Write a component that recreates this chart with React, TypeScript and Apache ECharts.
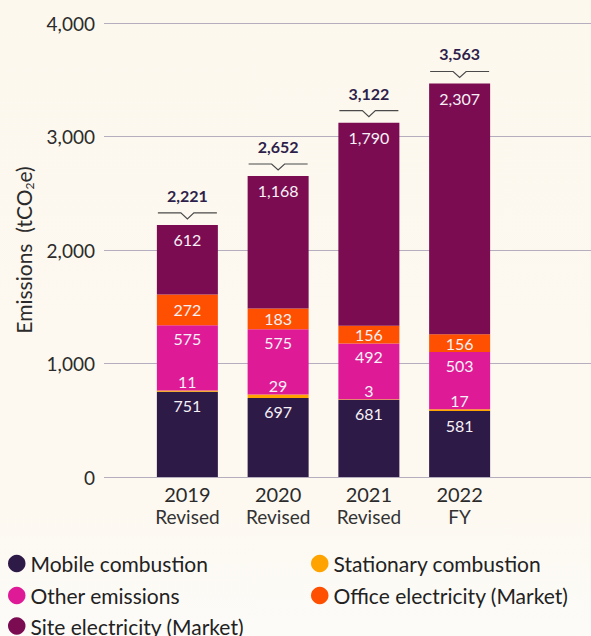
import React, { useEffect, useRef } from "react";
import * as echarts from "echarts";

const categories = ["2019", "2020", "2021", "2022"];
const categorySubLabels = ["Revised", "Revised", "Revised", "FY"];

const mobileCombustion = [751, 697, 681, 581];
const stationaryCombustion = [11, 29, 3, 17];
const otherEmissions = [575, 575, 492, 503];
const officeElectricity = [272, 183, 156, 156];
// Published values (labels)
const siteElectricity = [612, 1168, 1790, 2307];
// Heights of the bars as drawn in the source (2022 bar is drawn shorter than its label)
const siteElectricityBarHeight = [612, 1168, 1790, 2210];
const totals = [2221, 2652, 3122, 3563];

const yMin = 0;
const yMax = 4000;
const yInterval = 1000;

const FONT = "Lato";
const fmt = (v: number) => Number(v).toLocaleString("en-US");

const seriesColors: Record<string, string> = {
  "Mobile combustion": "#2e1a47",
  "Stationary combustion": "#ffa300",
  "Other emissions": "#df1a97",
  "Office electricity (Market)": "#fe5000",
  "Site electricity (Market)": "#7b0c52",
};

export default function App() {
  const ref = useRef<HTMLDivElement>(null);

  useEffect(() => {
    if (!ref.current) return;
    const chart = echarts.init(ref.current, undefined, { renderer: "svg" });

    const labelBase = {
      show: true,
      color: "#f6f1f6",
      fontSize: 16,
      fontFamily: FONT,
      formatter: (p: any) => fmt(p.value),
    };

    const barCommon = {
      type: "bar",
      stack: "total",
      xAxisIndex: 1,
      yAxisIndex: 1,
      barWidth: 61,
    };

    const drawnTotals = categories.map(
      (_, i) =>
        mobileCombustion[i] +
        stationaryCombustion[i] +
        otherEmissions[i] +
        officeElectricity[i] +
        siteElectricityBarHeight[i]
    );

    const legendItem = (name: string, left: number, top: number) => ({
      data: [name],
      orient: "horizontal",
      left,
      top,
      padding: 0,
      icon: "circle",
      itemWidth: 17.5,
      itemHeight: 17.5,
      itemGap: 0,
      selectedMode: false,
      textStyle: { fontSize: 21, lineHeight: 20, color: "#222222", fontFamily: FONT, padding: [0, 0, 0, 0] },
    });

    const option: any = {
      animation: false,
      backgroundColor: "transparent",
      textStyle: { fontFamily: FONT },
      grid: [
        { left: 104, right: 0, top: 23, height: 454 },
        { left: 142, width: 363, top: 23, height: 454 },
      ],
      xAxis: [
        { type: "value", gridIndex: 0, show: false, min: 0, max: 1 },
        {
          type: "category",
          gridIndex: 1,
          data: categories,
          axisLine: { show: false },
          axisTick: { show: false },
          axisLabel: {
            margin: 6,
            formatter: (v: string, i: number) => `{y|${v}}\n{s|${categorySubLabels[i]}}`,
            rich: {
              y: { fontSize: 20, lineHeight: 22, color: "#2b2b2b", fontFamily: FONT },
              s: { fontSize: 19, lineHeight: 22, color: "#333333", fontFamily: FONT },
            },
          },
        },
      ],
      yAxis: [
        {
          type: "value",
          gridIndex: 0,
          min: yMin,
          max: yMax,
          interval: yInterval,
          axisLine: { show: false },
          axisTick: { show: false },
          splitLine: { lineStyle: { color: "#b4aebf", width: 1 } },
          axisLabel: {
            fontSize: 19,
            color: "#2b2b2b",
            fontFamily: FONT,
            margin: 9,
            formatter: (v: number) => fmt(v),
          },
          name: "Emissions  (tCO{sub|2}e)",
          nameLocation: "middle",
          nameRotate: 90,
          nameGap: 68,
          nameTextStyle: {
            fontSize: 21,
            color: "#2b2b2b",
            fontFamily: FONT,
            lineHeight: 24,
            rich: {
              sub: { fontSize: 12, lineHeight: 12, verticalAlign: "bottom", color: "#2b2b2b", fontFamily: FONT },
            },
          },
        },
        {
          type: "value",
          gridIndex: 1,
          min: yMin,
          max: yMax,
          interval: yInterval,
          show: false,
          splitLine: { show: false },
        },
      ],
      legend: [
        legendItem("Mobile combustion", 8, 553),
        legendItem("Other emissions", 8, 585),
        legendItem("Site electricity (Market)", 8, 615.5),
        legendItem("Stationary combustion", 311, 553),
        legendItem("Office electricity (Market)", 311, 585),
      ],
      series: [
        {
          ...barCommon,
          name: "Mobile combustion",
          data: mobileCombustion,
          itemStyle: { color: seriesColors["Mobile combustion"] },
          label: { ...labelBase, position: "insideTop", distance: 6 },
        },
        {
          ...barCommon,
          name: "Stationary combustion",
          data: stationaryCombustion,
          itemStyle: { color: seriesColors["Stationary combustion"] },
          label: { ...labelBase, position: "top", distance: 1 },
        },
        {
          ...barCommon,
          name: "Other emissions",
          data: otherEmissions,
          itemStyle: { color: seriesColors["Other emissions"] },
          label: { ...labelBase, position: "insideTop", distance: 5 },
        },
        {
          ...barCommon,
          name: "Office electricity (Market)",
          data: officeElectricity,
          itemStyle: { color: seriesColors["Office electricity (Market)"] },
          label: { ...labelBase, position: "inside" },
        },
        {
          ...barCommon,
          name: "Site electricity (Market)",
          data: siteElectricityBarHeight,
          itemStyle: { color: seriesColors["Site electricity (Market)"] },
          label: {
            ...labelBase,
            position: "insideTop",
            distance: 7,
            formatter: (p: any) => fmt(siteElectricity[p.dataIndex]),
          },
        },
        {
          type: "custom",
          name: "Total",
          xAxisIndex: 1,
          yAxisIndex: 1,
          silent: true,
          z: 10,
          encode: { x: 0, y: 1 },
          data: categories.map((_, i) => [i, drawnTotals[i]]),
          renderItem: (params: any, api: any) => {
            const pt = api.coord([api.value(0), api.value(1)]);
            const x = pt[0];
            const y = pt[1];
            const half = 29.5;
            return {
              type: "group",
              children: [
                {
                  type: "polyline",
                  shape: {
                    points: [
                      [x - half, y - 12],
                      [x - 6.5, y - 12],
                      [x, y - 6],
                      [x + 6.5, y - 12],
                      [x + half, y - 12],
                    ],
                  },
                  style: { stroke: "#4a4a4a", lineWidth: 1.2, fill: null },
                },
                {
                  type: "text",
                  style: {
                    x: x,
                    y: y - 29.5,
                    text: fmt(totals[params.dataIndex]),
                    fill: "#2e1f4b",
                    fontSize: 16,
                    fontWeight: "bold",
                    fontFamily: FONT,
                    align: "center",
                    verticalAlign: "middle",
                  },
                },
              ],
            };
          },
        },
      ],
    };

    chart.setOption(option);
    return () => chart.dispose();
  }, []);

  return (
    <div
      style={{
        position: "fixed",
        left: 0,
        top: 0,
        width: 591,
        height: 636,
        background: "linear-gradient(to bottom, #fdf8ee 0%, #fdf9f1 80%, #fcfbf8 100%)",
      }}
    >
      <div ref={ref} style={{ width: 591, height: 636 }} />
    </div>
  );
}
